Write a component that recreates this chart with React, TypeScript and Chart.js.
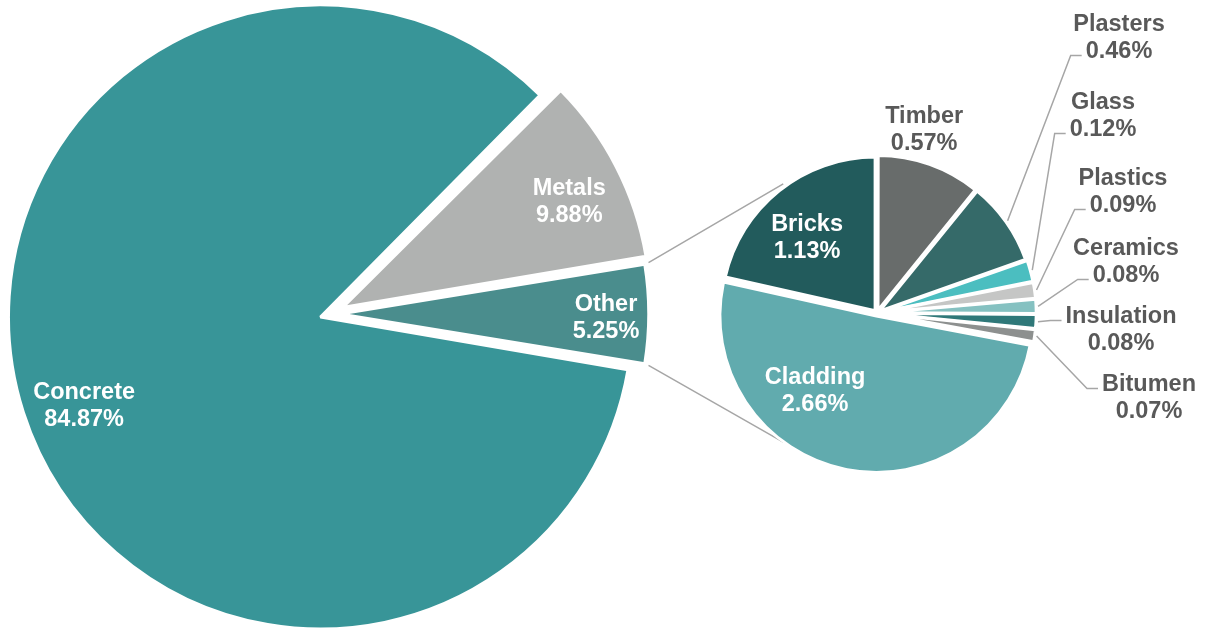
import React, { useEffect, useRef } from "react";
import { Chart, registerables } from "chart.js";

Chart.register(...registerables);

// ---- data ----
const mainCategories = ["Concrete", "Metals", "Other"];
const mainValues = [84.87, 9.88, 5.25];
const mainColors = ["#389598", "#B0B2B1", "#4A8D8D"];

const otherCategories = [
  "Bricks",
  "Timber",
  "Plasters",
  "Glass",
  "Plastics",
  "Ceramics",
  "Insulation",
  "Bitumen",
  "Cladding",
];
const otherValues = [1.13, 0.57, 0.46, 0.12, 0.09, 0.08, 0.08, 0.07, 2.66];
const otherColors = [
  "#225B5C",
  "#686C6B",
  "#356A69",
  "#4BBEC0",
  "#C5C6C5",
  "#85C1C1",
  "#2F7879",
  "#8D908F",
  "#61ABAE",
];

// ---- layout / style ----
const W = 1211;
const H = 628;
const FONT_SIZE = 23.5;
const FONT = `bold ${FONT_SIZE}px "Liberation Sans", Arial, sans-serif`;
const LINE_H = 27;
const CAP_HALF = 0.358 * FONT_SIZE;
const WHITE = "#FFFFFF";
const GRAY_TEXT = "#595959";
const LEADER = "#A6A6A6";

type Placement =
  | { kind: "polar"; color: string; dAngle: number; dist: number }
  | { kind: "xy"; color: string; dx: number; dy: number; leaderLine: number };

const mainPlacement: Placement[] = [
  { kind: "polar", color: WHITE, dAngle: -2.5, dist: 252 },
  { kind: "polar", color: WHITE, dAngle: 1.85, dist: 251 },
  { kind: "polar", color: WHITE, dAngle: 0.4, dist: 266 },
];

const otherPlacement: Placement[] = [
  { kind: "polar", color: WHITE, dAngle: -3.7, dist: 101 },
  { kind: "polar", color: GRAY_TEXT, dAngle: -5.3, dist: 188 },
  { kind: "xy", color: GRAY_TEXT, dx: 242, dy: -277, leaderLine: 1 },
  { kind: "xy", color: GRAY_TEXT, dx: 226, dy: -199, leaderLine: 1 },
  { kind: "xy", color: GRAY_TEXT, dx: 246, dy: -123, leaderLine: 1 },
  { kind: "xy", color: GRAY_TEXT, dx: 249, dy: -53, leaderLine: 1 },
  { kind: "xy", color: GRAY_TEXT, dx: 244, dy: 15, leaderLine: 0 },
  { kind: "xy", color: GRAY_TEXT, dx: 272, dy: 83, leaderLine: 0 },
  { kind: "polar", color: WHITE, dAngle: 28.3, dist: 95.5 },
];

const MAIN_CENTER = { x: 330, y: 314 };
const MAIN_RADIUS = 302;
const MAIN_OFFSETS = [40, 56, 40];
const SUB_CENTER = { x: 877, y: 313 };
const SUB_RADIUS = 153.5;
const SUB_OFFSET = 12;
const CONNECT_ANGLE = 126;

function arcGeom(el: any) {
  const p = el.getProps(["x", "y", "startAngle", "endAngle", "outerRadius", "circumference"], true);
  const off = (el.options.offset || 0) / 4;
  const mid = (p.startAngle + p.endAngle) / 2;
  const fix = 1 - Math.sin(Math.min(Math.PI, p.circumference || 0));
  return {
    cx: p.x,
    cy: p.y,
    ax: p.x + Math.cos(mid) * off,
    ay: p.y + Math.sin(mid) * off,
    r: p.outerRadius + off * fix,
    mid,
    start: p.startAngle,
    end: p.endAngle,
  };
}

function makeLabelPlugin(id: string, cats: string[], vals: number[], placements: Placement[]) {
  return {
    id,
    afterDatasetsDraw(chart: any) {
      const ctx = chart.ctx as CanvasRenderingContext2D;
      const meta = chart.getDatasetMeta(0);
      ctx.save();
      ctx.font = FONT;
      ctx.textAlign = "center";
      ctx.textBaseline = "alphabetic";
      meta.data.forEach((el: any, i: number) => {
        const g = arcGeom(el);
        const pl = placements[i];
        const lines = [cats[i], `${vals[i].toFixed(2)}%`];
        let bx: number;
        let by: number;
        if (pl.kind === "polar") {
          const a = g.mid + (pl.dAngle * Math.PI) / 180;
          bx = g.ax + Math.cos(a) * pl.dist;
          by = g.ay + Math.sin(a) * pl.dist;
        } else {
          bx = g.cx + pl.dx;
          by = g.cy + pl.dy;
          const li = pl.leaderLine;
          const lineMid = by + (li - 0.5) * LINE_H;
          const left = bx - ctx.measureText(lines[li]).width / 2;
          const ex = left - 4;
          const ey = lineMid + 6;
          const sx = g.ax + Math.cos(g.mid) * (g.r + 2);
          const sy = g.ay + Math.sin(g.mid) * (g.r + 2);
          ctx.save();
          ctx.strokeStyle = LEADER;
          ctx.lineWidth = 1.5;
          ctx.beginPath();
          ctx.moveTo(sx, sy);
          ctx.lineTo(ex - 11, ey);
          ctx.lineTo(ex, ey);
          ctx.stroke();
          ctx.restore();
        }
        ctx.fillStyle = pl.color;
        lines.forEach((t, k) => {
          const capMid = by + (k - (lines.length - 1) / 2) * LINE_H;
          ctx.fillText(t, bx, capMid + CAP_HALF);
        });
      });
      ctx.restore();
    },
  };
}

export default function App() {
  const mainRef = useRef<HTMLCanvasElement | null>(null);
  const subRef = useRef<HTMLCanvasElement | null>(null);

  useEffect(() => {
    if (!mainRef.current || !subRef.current) return;
    const mainTotal = mainValues.reduce((a, b) => a + b, 0);
    const otherDeg = (mainValues[2] / mainTotal) * 360;
    const mainRotation = 90 + otherDeg / 2;

    const subTotal = otherValues.reduce((a, b) => a + b, 0);
    const subRotation = -(otherValues[0] / subTotal) * 360;

    const main = new Chart(mainRef.current, {
      type: "pie",
      data: {
        labels: mainCategories,
        datasets: [
          {
            data: mainValues,
            backgroundColor: mainColors,
            borderColor: WHITE,
            borderWidth: 3,
            offset: MAIN_OFFSETS,
          },
        ],
      },
      options: {
        responsive: false,
        animation: false,
        events: [],
        rotation: mainRotation,
        radius: MAIN_RADIUS,
        layout: {
          padding: {
            left: MAIN_CENTER.x - 330,
            right: W - (MAIN_CENTER.x + 330),
            top: MAIN_CENTER.y - 314,
            bottom: H - (MAIN_CENTER.y + 314),
          },
        },
        plugins: { legend: { display: false }, tooltip: { enabled: false } },
      } as any,
      plugins: [makeLabelPlugin("mainLabels", mainCategories, mainValues, mainPlacement)],
    });

    const connectors = (chart: any) => {
      const ctx = chart.ctx as CanvasRenderingContext2D;
      const otherEl = main.getDatasetMeta(0).data[2];
      if (!otherEl) return;
      const g = arcGeom(otherEl);
      const sub = chart.getDatasetMeta(0).data[0] as any;
      const cx = sub.x;
      const cy = sub.y;
      const rr = SUB_RADIUS + 6;
      const up = (-CONNECT_ANGLE * Math.PI) / 180;
      const dn = (CONNECT_ANGLE * Math.PI) / 180;
      ctx.save();
      ctx.strokeStyle = LEADER;
      ctx.lineWidth = 1.5;
      ctx.beginPath();
      ctx.moveTo(g.ax + Math.cos(g.start) * (g.r + 4), g.ay + Math.sin(g.start) * (g.r + 4));
      ctx.lineTo(cx + Math.cos(up) * rr, cy + Math.sin(up) * rr);
      ctx.moveTo(g.ax + Math.cos(g.end) * (g.r + 4), g.ay + Math.sin(g.end) * (g.r + 4));
      ctx.lineTo(cx + Math.cos(dn) * rr, cy + Math.sin(dn) * rr);
      ctx.stroke();
      ctx.restore();
    };

    const sub = new Chart(subRef.current, {
      type: "pie",
      data: {
        labels: otherCategories,
        datasets: [
          {
            data: otherValues,
            backgroundColor: otherColors,
            borderColor: WHITE,
            borderWidth: 3,
            offset: SUB_OFFSET,
          },
        ],
      },
      options: {
        responsive: false,
        animation: false,
        events: [],
        rotation: subRotation,
        radius: SUB_RADIUS,
        layout: {
          padding: {
            left: SUB_CENTER.x - 300,
            right: W - (SUB_CENTER.x + 300),
            top: SUB_CENTER.y - 300,
            bottom: H - (SUB_CENTER.y + 300),
          },
        },
        plugins: { legend: { display: false }, tooltip: { enabled: false } },
      } as any,
      plugins: [
        {
          id: "connectors",
          beforeDatasetsDraw(chart: any) {
            connectors(chart);
          },
        },
        makeLabelPlugin("subLabels", otherCategories, otherValues, otherPlacement),
      ],
    });

    return () => {
      sub.destroy();
      main.destroy();
    };
  }, []);

  const canvasStyle: React.CSSProperties = {
    position: "absolute",
    left: 0,
    top: 0,
    width: W,
    height: H,
  };

  return (
    <div style={{ position: "fixed", left: 0, top: 0, width: W, height: H, background: "#FFFFFF" }}>
      <canvas ref={mainRef} width={W} height={H} style={canvasStyle} />
      <canvas ref={subRef} width={W} height={H} style={canvasStyle} />
    </div>
  );
}
